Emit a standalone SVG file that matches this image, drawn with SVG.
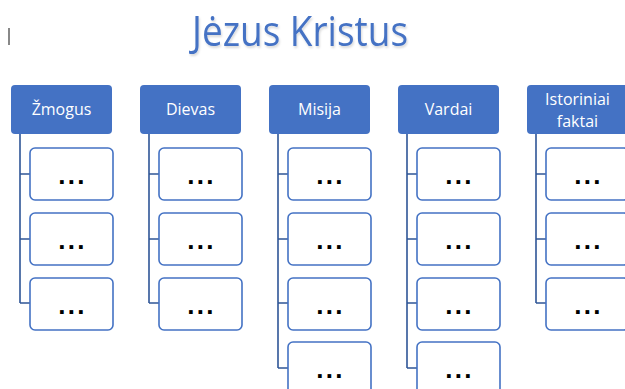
<svg xmlns="http://www.w3.org/2000/svg" width="625" height="389" viewBox="0 0 625 389">
<style>
.h{fill:#4472C4}
.ht{fill:#fff;font-family:"Open Sans","Liberation Sans",sans-serif;font-size:16px;text-anchor:middle}
.c{fill:#fff;stroke:#4472C4;stroke-width:1.6}
.d{fill:#000;font-family:"Liberation Sans",sans-serif;font-size:26px;font-weight:bold;text-anchor:middle;letter-spacing:2.3px}
.l{fill:none;stroke:#2F5597;stroke-width:1.6}
</style>
<defs>
<filter id="sh" x="-10%" y="-10%" width="120%" height="140%"><feDropShadow dx="1" dy="2" stdDeviation="1.2" flood-color="#000" flood-opacity="0.15"/></filter>
</defs>
<rect x="8" y="28" width="2" height="17" fill="#888"/>
<text x="300" y="46" filter="url(#sh)" font-family="Open Sans, Liberation Sans, sans-serif" font-size="42" fill="#4472C4" text-anchor="middle" textLength="216" lengthAdjust="spacingAndGlyphs">Jėzus Kristus</text>
<g id="connectors">
<path class="l" d="M20 134V303M20 174H30M20 239H30M20 303H30"/>
<path class="l" d="M149 134V303M149 174H159M149 239H159M149 303H159"/>
<path class="l" d="M278 134V368M278 174H288M278 239H288M278 303H288M278 368H288"/>
<path class="l" d="M407 134V368M407 174H417M407 239H417M407 303H417M407 368H417"/>
<path class="l" d="M536 134V303M536 174H546M536 239H546M536 303H546"/>
</g>
<g id="zmogus"><rect class="h" x="11" y="85" width="101" height="49" rx="4"/><text class="ht" x="61.5" y="115">Žmogus</text></g>
<g id="dievas"><rect class="h" x="140" y="85" width="101" height="49" rx="4"/><text class="ht" x="190.5" y="115">Dievas</text></g>
<g id="misija"><rect class="h" x="269" y="85" width="101" height="49" rx="4"/><text class="ht" x="319.5" y="115">Misija</text></g>
<g id="vardai"><rect class="h" x="398" y="85" width="101" height="49" rx="4"/><text class="ht" x="448.5" y="115">Vardai</text></g>
<g id="istoriniai"><rect class="h" x="527" y="85" width="101" height="49" rx="4"/><text class="ht" x="577.5" y="105">Istoriniai</text><text class="ht" x="577.5" y="127">faktai</text></g>
<g id="zmogus-1"><rect class="c" x="30" y="148" width="83" height="52" rx="5"/><text class="d" x="72.5" y="184">...</text></g>
<g id="zmogus-2"><rect class="c" x="30" y="213" width="83" height="52" rx="5"/><text class="d" x="72.5" y="249">...</text></g>
<g id="zmogus-3"><rect class="c" x="30" y="278" width="83" height="52" rx="5"/><text class="d" x="72.5" y="314">...</text></g>
<g id="dievas-1"><rect class="c" x="159" y="148" width="83" height="52" rx="5"/><text class="d" x="201.5" y="184">...</text></g>
<g id="dievas-2"><rect class="c" x="159" y="213" width="83" height="52" rx="5"/><text class="d" x="201.5" y="249">...</text></g>
<g id="dievas-3"><rect class="c" x="159" y="278" width="83" height="52" rx="5"/><text class="d" x="201.5" y="314">...</text></g>
<g id="misija-1"><rect class="c" x="288" y="148" width="83" height="52" rx="5"/><text class="d" x="330.5" y="184">...</text></g>
<g id="misija-2"><rect class="c" x="288" y="213" width="83" height="52" rx="5"/><text class="d" x="330.5" y="249">...</text></g>
<g id="misija-3"><rect class="c" x="288" y="278" width="83" height="52" rx="5"/><text class="d" x="330.5" y="314">...</text></g>
<g id="misija-4"><rect class="c" x="288" y="342" width="83" height="52" rx="5"/><text class="d" x="330.5" y="378">...</text></g>
<g id="vardai-1"><rect class="c" x="417" y="148" width="83" height="52" rx="5"/><text class="d" x="459.5" y="184">...</text></g>
<g id="vardai-2"><rect class="c" x="417" y="213" width="83" height="52" rx="5"/><text class="d" x="459.5" y="249">...</text></g>
<g id="vardai-3"><rect class="c" x="417" y="278" width="83" height="52" rx="5"/><text class="d" x="459.5" y="314">...</text></g>
<g id="vardai-4"><rect class="c" x="417" y="342" width="83" height="52" rx="5"/><text class="d" x="459.5" y="378">...</text></g>
<g id="istoriniai-1"><rect class="c" x="546" y="148" width="83" height="52" rx="5"/><text class="d" x="588.5" y="184">...</text></g>
<g id="istoriniai-2"><rect class="c" x="546" y="213" width="83" height="52" rx="5"/><text class="d" x="588.5" y="249">...</text></g>
<g id="istoriniai-3"><rect class="c" x="546" y="278" width="83" height="52" rx="5"/><text class="d" x="588.5" y="314">...</text></g>
</svg>
